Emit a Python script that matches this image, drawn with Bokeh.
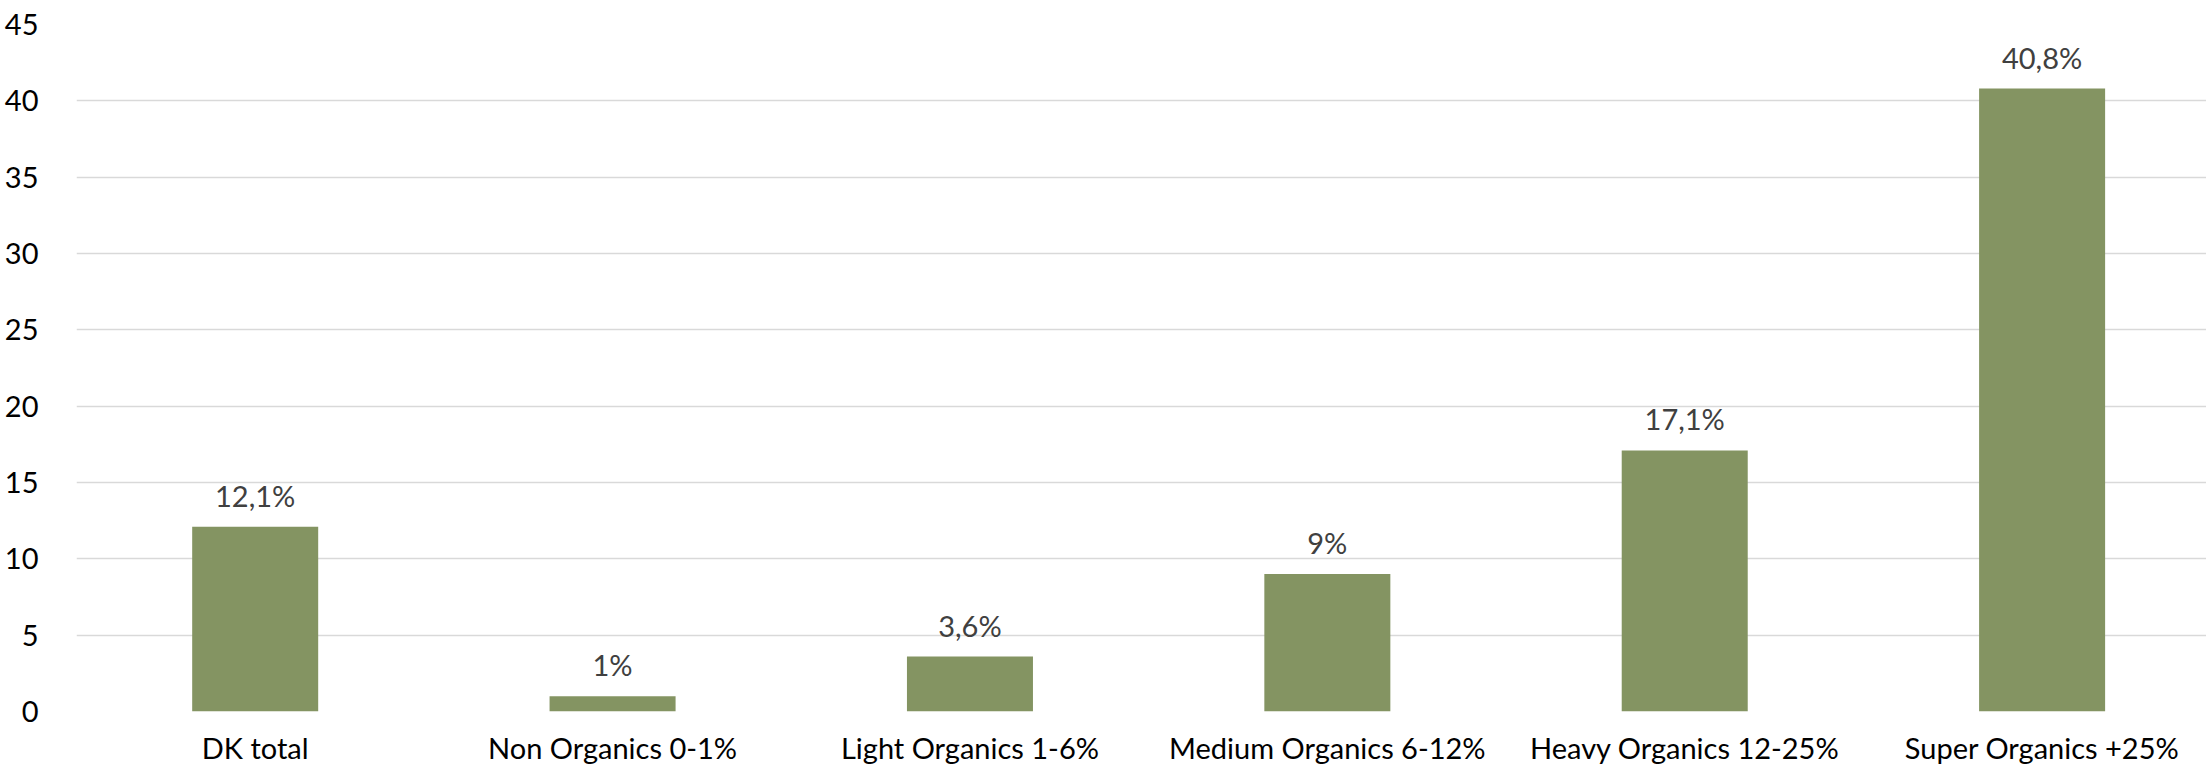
from bokeh.plotting import figure
from bokeh.models import ColumnDataSource, FixedTicker, LabelSet, Range1d
from bokeh.core.properties import value
from bokeh.embed import file_html
from bokeh.resources import INLINE

# Share of organic purchases by household segment (%)
categories = [
    "DK total",
    "Non Organics 0-1%",
    "Light Organics 1-6%",
    "Medium Organics 6-12%",
    "Heavy Organics 12-25%",
    "Super Organics +25%",
]
shares = [12.1, 1.0, 3.6, 9.0, 17.1, 40.8]
y_ticks = [0, 5, 10, 15, 20, 25, 30, 35, 40, 45]

positions = list(range(len(categories)))
labels = [f"{v:g}".replace(".", ",") + "%" for v in shares]

source = ColumnDataSource(data=dict(x=positions, top=shares, label=labels))

FONT = "Lato"
SIZE = "29px"

p = figure(
    width=2206,
    height=767,
    x_range=Range1d(-0.5, 5.46),
    y_range=Range1d(0, 45),
    output_backend="svg",
    toolbar_location=None,
    min_border_left=76,
    min_border_right=0,
    min_border_top=24,
    min_border_bottom=56,
)
p.outline_line_color = None
p.background_fill_color = "white"
p.border_fill_color = "white"

p.vbar(x="x", top="top", width=0.3526, source=source,
       fill_color="#849462", line_color=None)

p.add_layout(LabelSet(x="x", y="top", text="label", source=source,
                      text_align="center", text_baseline="alphabetic",
                      y_offset=20, text_font=value(FONT), text_font_size=SIZE,
                      text_color="#404040"))

# y axis
p.yaxis.ticker = FixedTicker(ticks=y_ticks)
p.yaxis.axis_line_color = None
p.yaxis.major_tick_line_color = None
p.yaxis.minor_tick_line_color = None
p.yaxis.major_label_standoff = 32
p.yaxis.major_label_text_font = FONT
p.yaxis.major_label_text_font_size = SIZE
p.yaxis.major_label_text_color = "#000000"

# x axis with category names
p.xaxis.ticker = FixedTicker(ticks=positions)
p.xaxis.major_label_overrides = {i: c for i, c in zip(positions, categories)}
p.xaxis.axis_line_color = None
p.xaxis.major_tick_line_color = None
p.xaxis.minor_tick_line_color = None
p.xaxis.major_label_standoff = 12
p.xaxis.major_label_text_font = FONT
p.xaxis.major_label_text_font_size = SIZE
p.xaxis.major_label_text_color = "#000000"

p.xgrid.grid_line_color = None
p.ygrid.grid_line_color = "#d9d9d9"
p.ygrid.grid_line_width = 1.5

open("out.html", "w").write(file_html(p, INLINE))
